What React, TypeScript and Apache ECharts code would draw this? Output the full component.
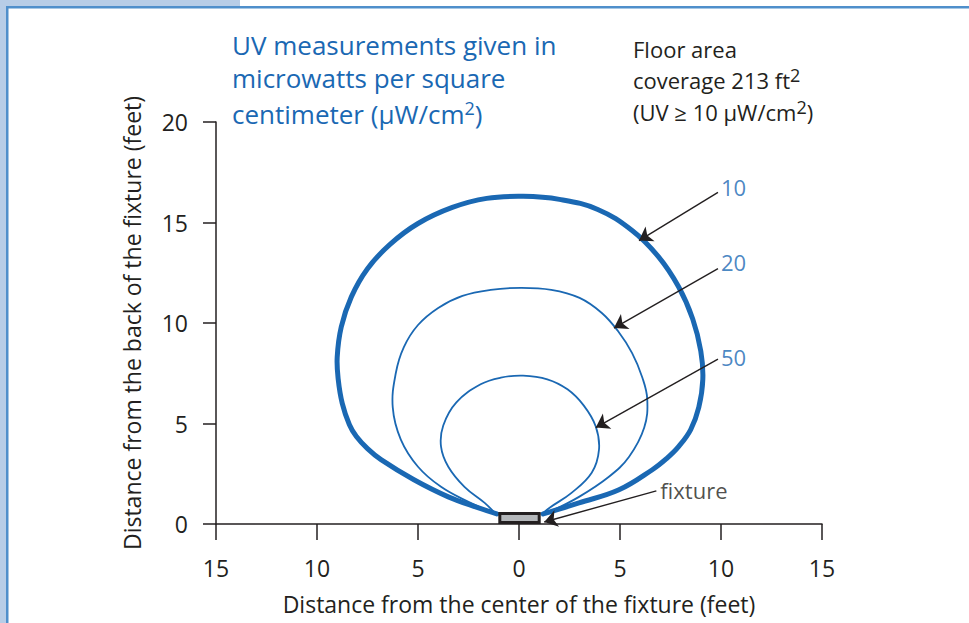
import React, { useEffect, useRef } from "react";
import * as echarts from "echarts";

// ---- data (feet) ----
const contour10X = [-1.1, -2.0, -3.5, -5.2, -6.83, -7.5, -8.05, -8.4, -8.75, -8.95, -9.0, -8.8, -8.3, -7.5, -6.4, -5.0, -3.3, -1.6, 0.2, 2.0, 3.9, 5.6, 6.9, 7.9, 8.6, 9.0, 9.1, 8.9, 8.5, 7.9, 7.3, 6.6, 4.95, 2.97, 1.2];
const contour10Y = [0.5, 0.8, 1.35, 2.2, 3.2, 3.75, 4.35, 4.95, 6.0, 7.2, 8.3, 9.8, 11.3, 12.7, 13.9, 14.95, 15.75, 16.2, 16.3, 16.15, 15.65, 14.6, 13.3, 11.8, 10.2, 8.6, 7.2, 5.8, 4.7, 3.85, 3.25, 2.7, 1.7, 1.05, 0.5];

const contour20X = [-1.0, -1.4, -2.5, -3.86, -5.0, -5.85, -6.25, -6.1, -5.7, -5.0, -4.0, -2.8, -1.4, 0.1, 1.6, 3.0, 4.1, 4.9, 5.6, 6.1, 6.35, 6.2, 5.45, 4.45, 2.97, 1.5, 1.1];
const contour20Y = [0.5, 0.6, 1.1, 1.85, 2.85, 4.2, 5.8, 7.5, 8.8, 9.9, 10.75, 11.35, 11.65, 11.75, 11.65, 11.25, 10.5, 9.6, 8.5, 7.3, 6.2, 4.8, 3.35, 2.35, 1.35, 0.6, 0.5];

const contour50X = [-1.15, -1.7, -2.7, -3.5, -3.86, -3.75, -3.1, -1.9, -0.9, 0.2, 1.4, 2.4, 3.2, 3.8, 3.96, 3.6, 2.6, 1.5, 1.15];
const contour50Y = [0.5, 1.05, 1.85, 2.85, 3.85, 4.9, 6.05, 6.95, 7.28, 7.38, 7.2, 6.7, 5.9, 4.85, 3.7, 2.55, 1.55, 0.8, 0.5];

const fixtureX = [-0.95, 1.0];
const fixtureY = [0.08, 0.52];

const labelTexts = ["10", "20", "50", "fixture"];
const labelX = [9.85, 9.85, 9.85, 6.85];
const labelY = [16.77, 13.03, 8.31, 1.69];
const arrowFromX = [9.85, 9.85, 9.85, 6.8];
const arrowFromY = [16.5, 12.7, 8.2, 1.65];
const arrowToX = [5.94, 4.7, 3.8, 1.25];
const arrowToY = [14.1, 9.75, 4.8, 0.1];

const FONT = '"Open Sans", sans-serif';
const BLUE = "#1a68b3";
const INK = "#231f20";

const pairs = (xs: number[], ys: number[]) => xs.map((x, i) => [x, ys[i]]);

export default function App() {
  const ref = useRef<HTMLDivElement>(null);
  useEffect(() => {
    if (!ref.current) return;
    const chart = echarts.init(ref.current, undefined, { renderer: "svg" });
    const contourSeries = (name: string, xs: number[], ys: number[], width: number) => ({
      type: "custom",
      name,
      data: pairs(xs, ys),
      silent: true,
      z: 3,
      clip: false,
      renderItem: (params: any, api: any) => {
        if (params.dataIndex !== 0) return null;
        const pts = xs.map((x, i) => api.coord([x, ys[i]]));
        return {
          type: "polyline",
          shape: { points: pts, smooth: 0.4 },
          style: { stroke: BLUE, lineWidth: width, fill: "none", lineCap: "round", lineJoin: "round" },
        };
      },
    });
    const option: any = {
      animation: false,
      backgroundColor: "#ffffff",
      grid: { left: 216, right: 147, top: 122, bottom: 99 },
      xAxis: {
        type: "value",
        min: -15,
        max: 15,
        interval: 5,
        axisLine: { onZero: false, lineStyle: { color: INK, width: 1.5 } },
        axisTick: { length: 16, lineStyle: { color: INK, width: 1.5 } },
        splitLine: { show: false },
        axisLabel: {
          margin: 32,
          color: INK,
          fontSize: 23,
          fontFamily: FONT,
          formatter: (v: number) => String(Math.abs(v)),
        },
        name: "Distance from the center of the fixture (feet)",
        nameLocation: "middle",
        nameGap: 68,
        nameTextStyle: { color: INK, fontSize: 23, fontFamily: FONT },
      },
      yAxis: {
        type: "value",
        min: 0,
        max: 20,
        interval: 5,
        axisLine: { show: true, onZero: false, lineStyle: { color: INK, width: 1.5 } },
        axisTick: { show: true, length: 13, lineStyle: { color: INK, width: 1.5 } },
        splitLine: { show: false },
        axisLabel: {
          margin: 28,
          color: INK,
          fontSize: 23,
          fontFamily: FONT,
          padding: [12, 0, 0, 0],
        },
        name: "Distance from the back of the fixture (feet)",
        nameLocation: "middle",
        nameGap: 73,
        nameTextStyle: { color: INK, fontSize: 23, fontFamily: FONT },
      },
      graphic: [
        { type: "rect", shape: { x: 0, y: 0, width: 240, height: 7 }, style: { fill: "#b7cde7" }, silent: true },
        { type: "rect", shape: { x: 0, y: 0, width: 6, height: 623 }, style: { fill: "#b7cde7" }, silent: true },
        { type: "rect", shape: { x: 6, y: 6, width: 963, height: 2.5 }, style: { fill: "#4f8fcb" }, silent: true },
        { type: "rect", shape: { x: 6, y: 6, width: 2.5, height: 617 }, style: { fill: "#4f8fcb" }, silent: true },
        {
          type: "text",
          x: 232,
          y: 45,
          style: { text: "UV measurements given in", fill: BLUE, fontSize: 26, fontFamily: FONT, verticalAlign: "middle", lineHeight: 30 },
        },
        {
          type: "text",
          x: 232,
          y: 78,
          style: { text: "microwatts per square", fill: BLUE, fontSize: 26, fontFamily: FONT, verticalAlign: "middle", lineHeight: 30 },
        },
        {
          type: "text",
          x: 232,
          y: 114,
          style: {
            text: "{n|centimeter (μW/cm}{s|2}{n|)}",
            verticalAlign: "middle",
            rich: {
              n: { fill: BLUE, fontSize: 26, fontFamily: FONT, lineHeight: 30 },
              s: { fill: BLUE, fontSize: 18, fontFamily: FONT, padding: [0, 0, 12, 0], lineHeight: 30 },
            },
          },
        },
        {
          type: "text",
          x: 633,
          y: 49,
          style: { text: "Floor area", fill: INK, fontSize: 22, fontFamily: FONT, verticalAlign: "middle", lineHeight: 26 },
        },
        {
          type: "text",
          x: 633,
          y: 80,
          style: {
            text: "{n|coverage 213 ft}{s|2}",
            verticalAlign: "middle",
            rich: {
              n: { fill: INK, fontSize: 22, fontFamily: FONT, lineHeight: 26 },
              s: { fill: INK, fontSize: 18, fontFamily: FONT, padding: [0, 0, 11, 0], lineHeight: 26 },
            },
          },
        },
        {
          type: "text",
          x: 633,
          y: 112,
          style: {
            text: "{n|(UV ≥ 10 μW/cm}{s|2}{n|)}",
            verticalAlign: "middle",
            rich: {
              n: { fill: INK, fontSize: 22, fontFamily: FONT, lineHeight: 26 },
              s: { fill: INK, fontSize: 18, fontFamily: FONT, padding: [0, 0, 11, 0], lineHeight: 26 },
            },
          },
        },
      ],
      series: [
        contourSeries("10 μW/cm²", contour10X, contour10Y, 5),
        contourSeries("20 μW/cm²", contour20X, contour20Y, 1.8),
        contourSeries("50 μW/cm²", contour50X, contour50Y, 1.8),
        {
          type: "custom",
          name: "fixture",
          data: [[fixtureX[0], fixtureY[1], fixtureX[1], fixtureY[0]]],
          z: 5,
          silent: true,
          renderItem: (_p: any, api: any) => {
            const a = api.coord([api.value(0), api.value(1)]);
            const b = api.coord([api.value(2), api.value(3)]);
            return {
              type: "rect",
              shape: { x: a[0], y: a[1], width: b[0] - a[0], height: b[1] - a[1] },
              style: { fill: "#b4b7ba", stroke: INK, lineWidth: 3 },
            };
          },
        },
        {
          type: "scatter",
          name: "labels",
          data: labelTexts.map((t, i) => ({
            value: [labelX[i], labelY[i]],
            name: t,
            label: { color: i === 3 ? INK : BLUE },
          })),
          symbolSize: 0,
          silent: true,
          z: 6,
          label: {
            show: true,
            position: "right",
            distance: 3,
            formatter: (p: any) => p.name,
            fontSize: 22,
            fontFamily: FONT,
            color: BLUE,
          },
          labelLayout: { hideOverlap: false },
          markLine: {
            silent: true,
            symbol: ["none", "arrow"],
            symbolSize: 13,
            label: { show: false },
            itemStyle: { color: INK },
            lineStyle: { color: INK, width: 1.4, type: "solid" },
            emphasis: { disabled: true },
            data: arrowFromX.map((x, i) => [
              { coord: [x, arrowFromY[i]] },
              { coord: [arrowToX[i], arrowToY[i]] },
            ]),
          },
        },
      ],
    };
    chart.setOption(option);
    return () => chart.dispose();
  }, []);
  return (
    <div
      ref={ref}
      style={{ position: "fixed", left: 0, top: 0, width: 969, height: 623 }}
    />
  );
}
